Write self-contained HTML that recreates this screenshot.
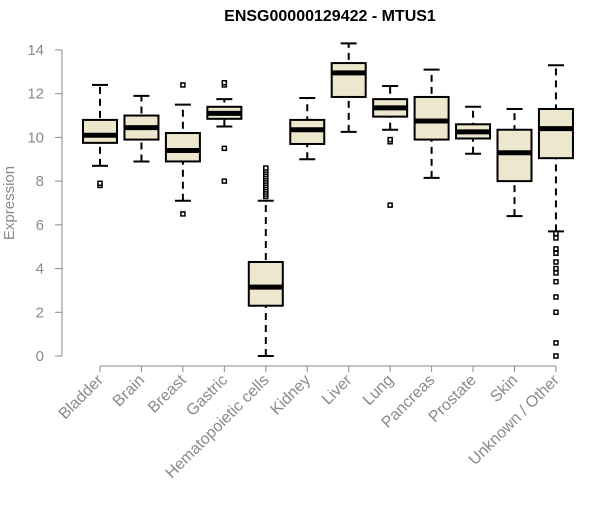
<!DOCTYPE html>
<html><head><meta charset="utf-8"><style>body{margin:0;background:#fff}svg{font-family:"Liberation Sans",Arial,sans-serif}</style></head>
<body>
<svg id="c" width="600" height="500">
<text x="330" y="21" text-anchor="middle" font-weight="bold" font-size="16">ENSG00000129422 - MTUS1</text>
<text transform="translate(14,203) rotate(-90)" text-anchor="middle" font-size="15" fill="#8a8a8a">Expression</text>
<g id="g"></g>
</svg>
<script>
const categories=["Bladder","Brain","Breast","Gastric","Hematopoietic cells","Kidney","Liver","Lung","Pancreas","Prostate","Skin","Unknown / Other"];
const whiskerLow=[8.7,8.9,7.1,10.5,0,9.0,10.25,10.35,8.15,9.25,6.4,5.7];
const q1=[9.75,9.9,8.9,10.85,2.3,9.7,11.85,10.95,9.9,9.95,8.0,9.05];
const medians=[10.1,10.45,9.4,11.1,3.15,10.35,12.95,11.35,10.75,10.25,9.3,10.4];
const q3=[10.8,11.0,10.2,11.4,4.3,10.8,13.4,11.75,11.85,10.6,10.35,11.3];
const whiskerHigh=[12.4,11.9,11.5,11.75,7.1,11.8,14.3,12.35,13.1,11.4,11.3,13.3];
const outliers=[[7.8,7.9],[],[6.5,12.4],[12.4,12.5,9.5,8.0],[7.3,7.4,7.5,7.6,7.7,7.8,7.9,8.0,8.1,8.2,8.3,8.4,8.5,8.6],[],[],[9.8,9.9,6.9],[],[],[],[5.6,5.4,4.9,4.7,4.3,4.0,3.8,3.4,2.7,2.0,0.6,0.0]];
const yTicks=[0,2,4,6,8,10,12,14];
const y=v=>356-v*21.86;
const x=i=>100+i*41.45;
const g=document.getElementById('g');
const NS="http://www.w3.org/2000/svg";
function mk(t,a){const e=document.createElementNS(NS,t);for(const k in a)e.setAttribute(k,a[k]);g.appendChild(e);return e;}
let e=mk('line',{x1:62,x2:62,y1:y(0),y2:y(14),stroke:'#8a8a8a'});

yTicks.forEach(t=>{
 let l=mk('line',{x1:55,x2:62,y1:y(t),y2:y(t),stroke:'#8a8a8a'});
 
 let s=mk('text',{x:44,y:y(t)+5,'text-anchor':'end','font-size':15,fill:'#8a8a8a'});s.textContent=t;
 
});
e=mk('line',{x1:x(0),x2:x(11),y1:366,y2:366,stroke:'#8a8a8a'});

categories.forEach((c,i)=>{
 const cx=x(i);
 let l=mk('line',{x1:cx,x2:cx,y1:366,y2:372,stroke:'#8a8a8a'});
 
 let s=mk('text',{x:cx+4,y:381,'text-anchor':'end','font-size':16,fill:'#8a8a8a',transform:`rotate(-45 ${cx+4} 381)`});s.textContent=c;
 
 let w=mk('line',{x1:cx,x2:cx,y1:y(whiskerLow[i]),y2:y(whiskerHigh[i]),stroke:'#000','stroke-width':2,'stroke-dasharray':'7,5'});
 
 [whiskerLow[i],whiskerHigh[i]].forEach(v=>{let c2=mk('line',{x1:cx-8,x2:cx+8,y1:y(v),y2:y(v),stroke:'#000','stroke-width':2});
 });
 let b=mk('rect',{x:cx-17,y:y(q3[i]),width:34,height:y(q1[i])-y(q3[i]),fill:'#ede7cd',stroke:'#000','stroke-width':2});
 
 let m=mk('line',{x1:cx-17,x2:cx+17,y1:y(medians[i]),y2:y(medians[i]),stroke:'#000','stroke-width':5});
 
 outliers[i].forEach(v=>{let o=mk('rect',{x:cx-2,y:y(v)-2,width:4,height:4,fill:'#fff',stroke:'#000','stroke-width':1.5});
 });
});
</script>
</body></html>
